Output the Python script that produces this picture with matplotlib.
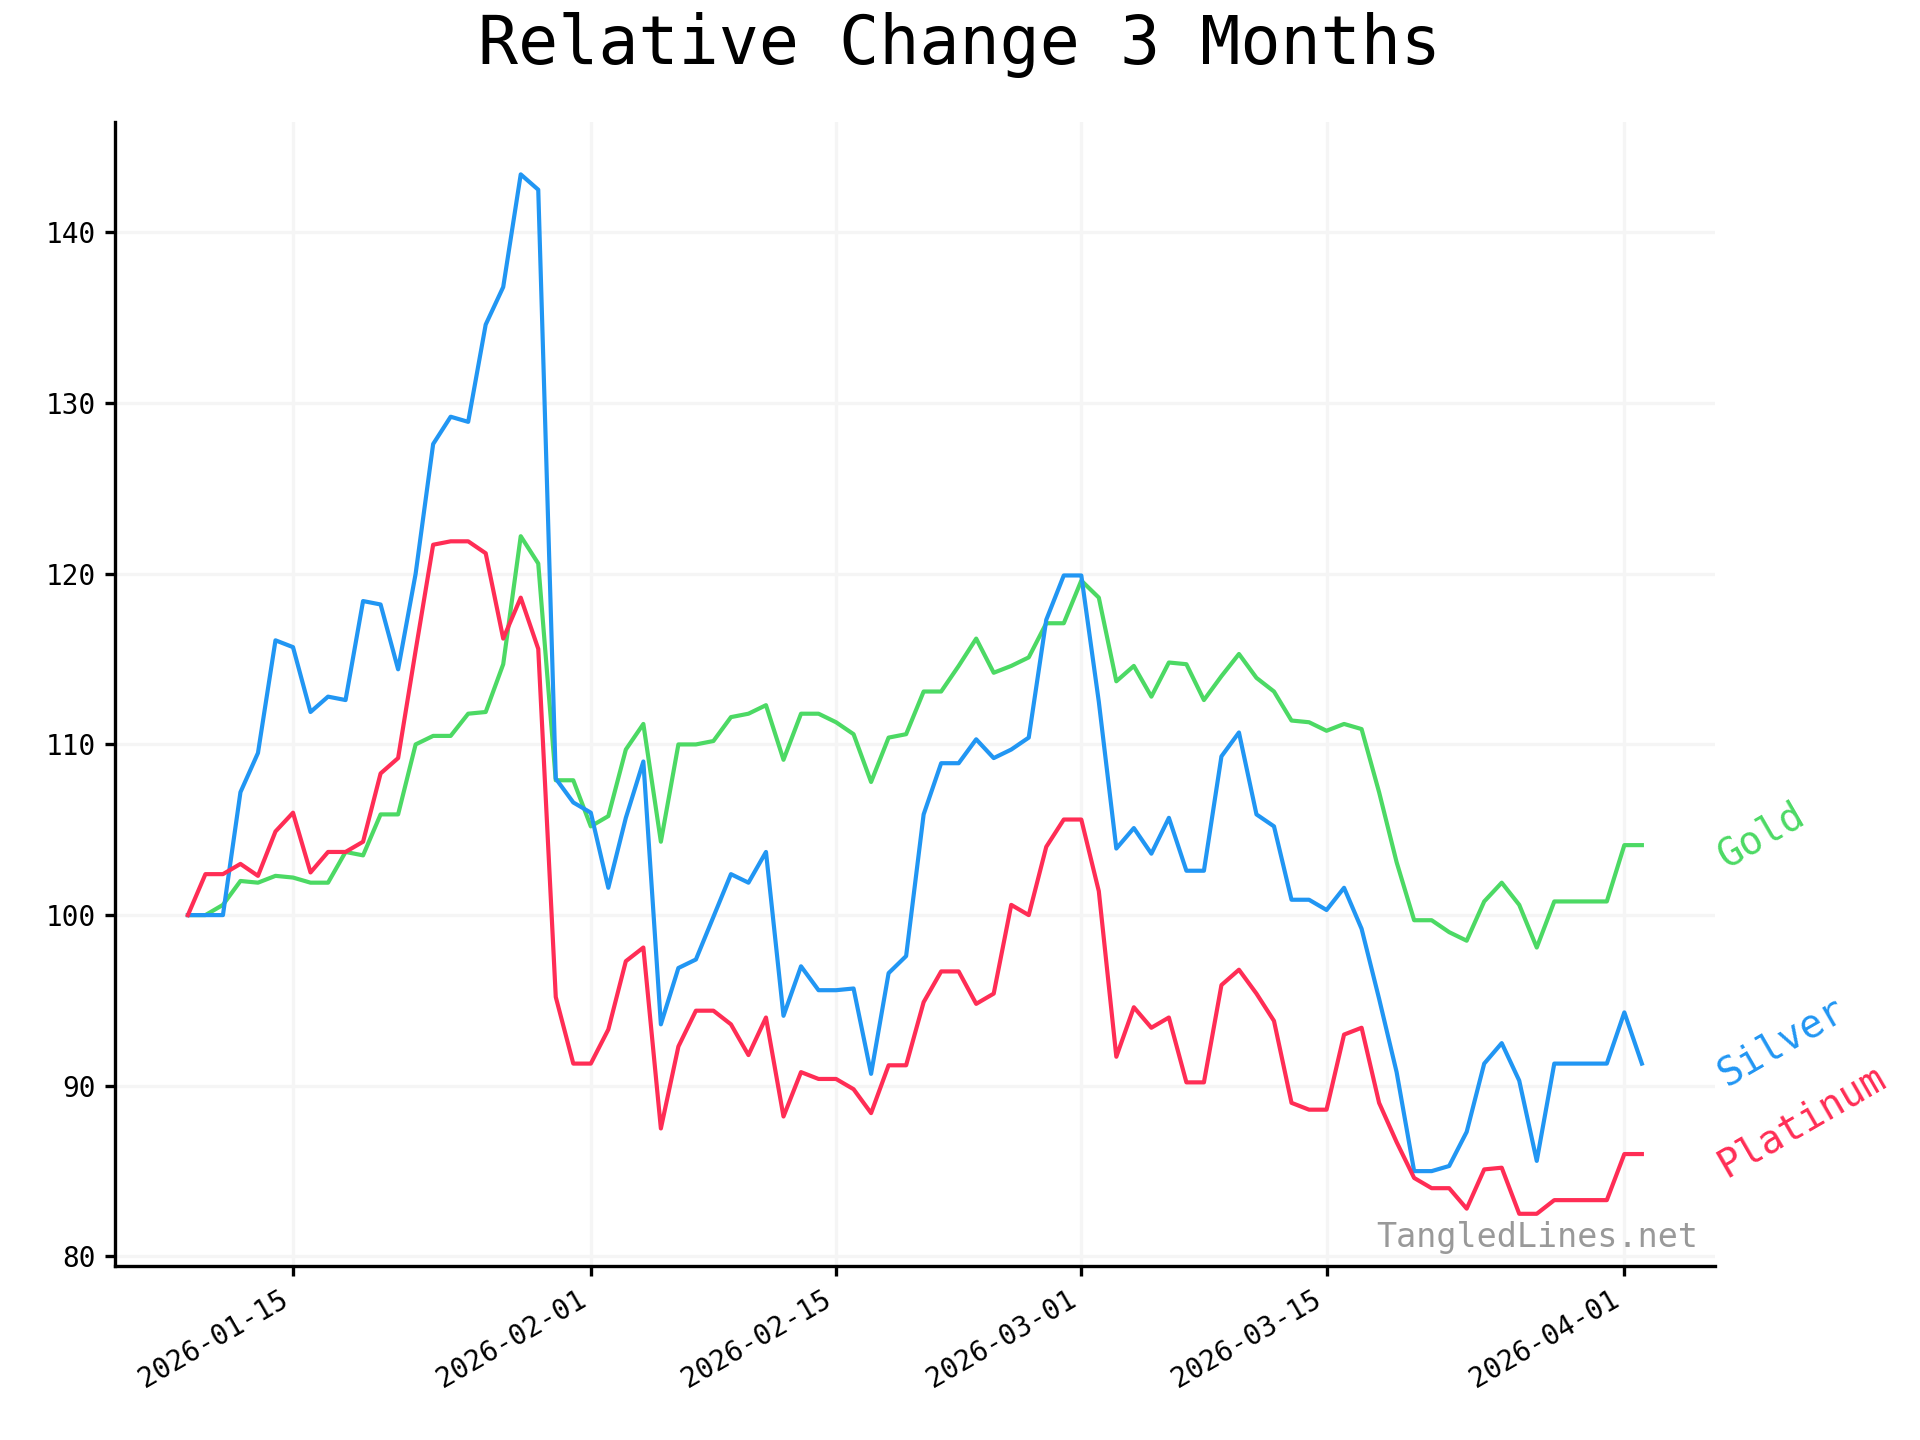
"""
Relative change of precious metals over the last 3 months (index, start = 100)
"""

import matplotlib.pyplot as plt
import matplotlib.dates as mdates
import numpy as np
import pandas as pd

dates = pd.date_range("2026-01-09", "2026-04-02", freq="D")

gold = [
    100.0, 100.0, 100.6, 102.0, 101.9, 102.3, 102.2, 101.9, 101.9, 103.7,
    103.5, 105.9, 105.9, 110.0, 110.5, 110.5, 111.8, 111.9, 114.7, 122.2,
    120.6, 107.9, 107.9, 105.2, 105.8, 109.7, 111.2, 104.3, 110.0, 110.0,
    110.2, 111.6, 111.8, 112.3, 109.1, 111.8, 111.8, 111.3, 110.6, 107.8,
    110.4, 110.6, 113.1, 113.1, 114.6, 116.2, 114.2, 114.6, 115.1, 117.1,
    117.1, 119.6, 118.6, 113.7, 114.6, 112.8, 114.8, 114.7, 112.6, 114.0,
    115.3, 113.9, 113.1, 111.4, 111.3, 110.8, 111.2, 110.9, 107.2, 103.1,
    99.7, 99.7, 99.0, 98.5, 100.8, 101.9, 100.6, 98.1, 100.8, 100.8,
    100.8, 100.8, 104.1, 104.1,
]

silver = [
    100.0, 100.0, 100.0, 107.2, 109.5, 116.1, 115.7, 111.9, 112.8, 112.6,
    118.4, 118.2, 114.4, 120.0, 127.6, 129.2, 128.9, 134.6, 136.8, 143.4,
    142.5, 108.0, 106.6, 106.0, 101.6, 105.7, 109.0, 93.6, 96.9, 97.4,
    99.9, 102.4, 101.9, 103.7, 94.1, 97.0, 95.6, 95.6, 95.7, 90.7,
    96.6, 97.6, 105.9, 108.9, 108.9, 110.3, 109.2, 109.7, 110.4, 117.3,
    119.9, 119.9, 112.5, 103.9, 105.1, 103.6, 105.7, 102.6, 102.6, 109.3,
    110.7, 105.9, 105.2, 100.9, 100.9, 100.3, 101.6, 99.2, 95.1, 90.8,
    85.0, 85.0, 85.3, 87.3, 91.3, 92.5, 90.3, 85.6, 91.3, 91.3,
    91.3, 91.3, 94.3, 91.3,
]

platinum = [
    100.0, 102.4, 102.4, 103.0, 102.3, 104.9, 106.0, 102.5, 103.7, 103.7,
    104.3, 108.3, 109.2, 115.5, 121.7, 121.9, 121.9, 121.2, 116.2, 118.6,
    115.6, 95.2, 91.3, 91.3, 93.3, 97.3, 98.1, 87.5, 92.3, 94.4,
    94.4, 93.6, 91.8, 94.0, 88.2, 90.8, 90.4, 90.4, 89.8, 88.4,
    91.2, 91.2, 94.9, 96.7, 96.7, 94.8, 95.4, 100.6, 100.0, 104.0,
    105.6, 105.6, 101.4, 91.7, 94.6, 93.4, 94.0, 90.2, 90.2, 95.9,
    96.8, 95.4, 93.8, 89.0, 88.6, 88.6, 93.0, 93.4, 89.0, 86.7,
    84.6, 84.0, 84.0, 82.8, 85.1, 85.2, 82.5, 82.5, 83.3, 83.3,
    83.3, 83.3, 86.0, 86.0,
]

series = [
    ("Gold", gold, "#4CD964"),
    ("Silver", silver, "#2196F3"),
    ("Platinum", platinum, "#FF2D55"),
]

plt.rcParams["font.family"] = "DejaVu Sans Mono"

fig, ax = plt.subplots(figsize=(9.6, 7.2), dpi=200)
fig.subplots_adjust(left=0.06, right=0.893, top=0.915, bottom=0.121)

for name, values, color in series:
    ax.plot(dates, values, color=color, linewidth=1.5)
    # label sits just right of the last point, tilted
    ax.annotate(
        name, xy=(dates[-1] + pd.Timedelta(days=4.5), values[-1]),
        xytext=(0, -5), textcoords="offset points",
        color=color, fontsize=14, rotation=30, rotation_mode="anchor",
        ha="left", va="center", annotation_clip=False,
    )

fig.suptitle("Relative Change 3 Months", fontsize=24, x=0.5, y=0.969,
             va="center")

ax.grid(True, color="#f5f5f5", linewidth=1.2)
ax.set_axisbelow(True)
for side in ["top", "right"]:
    ax.spines[side].set_visible(False)
for side in ["left", "bottom"]:
    ax.spines[side].set_linewidth(1.2)

ax.xaxis.set_major_locator(mdates.AutoDateLocator())
ax.xaxis.set_major_formatter(mdates.DateFormatter("%Y-%m-%d"))
ax.tick_params(width=1.2)
for lbl in ax.get_xticklabels():
    lbl.set_rotation(30)
    lbl.set_ha("right")

ax.text(0.99, 0.01, "TangledLines.net", transform=ax.transAxes,
        ha="right", va="bottom", fontsize=12, color="#999999")

plt.savefig("out.png", dpi=200)
